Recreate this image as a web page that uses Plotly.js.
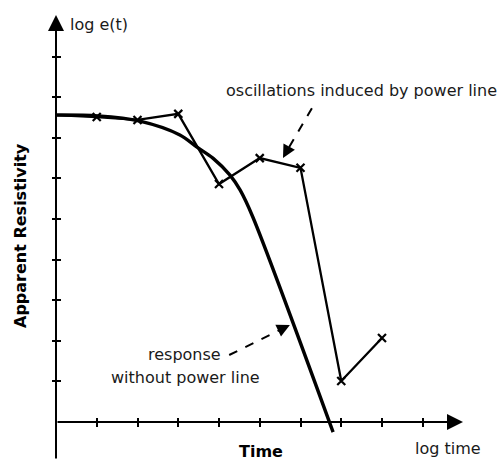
<!DOCTYPE html>
<html>
<head>
<meta charset="utf-8">
<script src="https://cdn.plot.ly/plotly-3.0.1.min.js"></script>
<style>html,body{margin:0;padding:0;background:#fff;}#chart{width:502px;height:460px;}</style>
</head>
<body>
<div id="chart"></div>
<script>
// Tick positions (log time / log e(t) units)
const xTicks = [1, 2, 3, 4, 5, 6, 7, 8, 9];
const yTicks = [1, 2, 3, 4, 5, 6, 7, 8, 9];

// Response without power line (smooth curve)
const cleanX = [0, 1.03, 2.06, 3.04, 3.46, 3.85, 4.27, 4.52, 4.83, 6.80];
const cleanY = [7.56, 7.54, 7.41, 7.07, 6.77, 6.50, 6.08, 5.71, 5.05, -0.25];

// Measured response with power-line oscillations
const noisyLineX = [0, 1, 2, 3, 4, 5, 6, 7, 8];
const noisyLineY = [7.56, 7.51, 7.44, 7.59, 5.86, 6.50, 6.26, 1.01, 2.07];
const markX = [1, 2, 3, 4, 5, 6, 7, 8];
const markY = [7.51, 7.44, 7.59, 5.86, 6.50, 6.26, 1.01, 2.07];

const W = 502, H = 460;
const X0 = 56, Y0 = 422, SX = 40.75, SY = 40.6;
const xRange = [(0 - X0) / SX, (W - X0) / SX];
const yRange = [(Y0 - H) / SY, (Y0 - 0) / SY];
const px = p => p / W;
const py = p => 1 - p / H;

const font = {family: 'DejaVu Sans, Verdana, sans-serif', size: 16, color: '#1a1a1a'};
const bold = {family: 'DejaVu Sans, Verdana, sans-serif', size: 16, color: '#000', weight: 'bold'};

const traces = [
  {x: cleanX, y: cleanY, mode: 'lines', line: {color: '#000', width: 3.4, shape: 'spline', smoothing: 0.9}, hoverinfo: 'skip'},
  {x: noisyLineX, y: noisyLineY, mode: 'lines', line: {color: '#000', width: 2.3}, hoverinfo: 'skip'},
  {x: markX, y: markY, mode: 'markers', marker: {symbol: 'x-thin-open', size: 8, color: '#000', line: {color: '#000', width: 2.2}}, hoverinfo: 'skip'},
  {x: [], y: [], xaxis: 'x2', yaxis: 'y2', mode: 'markers', hoverinfo: 'skip'}
];

const axBase = {showgrid: false, zeroline: false, showline: false, showticklabels: false,
  tickmode: 'array', ticklen: 4, tickwidth: 2, tickcolor: '#000', fixedrange: true};

const layout = {
  width: W, height: H,
  margin: {l: 0, r: 0, t: 0, b: 0, pad: 0},
  paper_bgcolor: '#fff', plot_bgcolor: 'rgba(0,0,0,0)',
  showlegend: false,
  xaxis: Object.assign({}, axBase, {range: xRange, tickvals: xTicks, ticks: 'outside', anchor: 'free', position: 1 - Y0 / H}),
  yaxis: Object.assign({}, axBase, {range: yRange, tickvals: yTicks, ticks: 'outside', anchor: 'free', position: X0 / W}),
  xaxis2: Object.assign({}, axBase, {range: xRange, tickvals: xTicks, ticks: 'inside', overlaying: 'x', anchor: 'free', position: 1 - Y0 / H}),
  yaxis2: Object.assign({}, axBase, {range: yRange, tickvals: yTicks, ticks: 'inside', overlaying: 'y', anchor: 'free', position: X0 / W}),
  shapes: [
    {type: 'line', xref: 'x', yref: 'y', x0: 6.28, y0: 7.73, x1: 5.68, y1: 6.70, line: {color: '#000', width: 2, dash: 'dash'}},
    {type: 'line', xref: 'x', yref: 'y', x0: 4.25, y0: 1.65, x1: 5.50, y1: 2.27, line: {color: '#000', width: 2, dash: 'dash'}}
  ],
  annotations: [
    // axis arrows
    {xref: 'x', yref: 'y', axref: 'x', ayref: 'y', x: 0, y: (Y0 - 15) / SY, ax: 0, ay: yRange[0], showarrow: true, arrowhead: 2, arrowwidth: 2, arrowsize: 1.6, arrowcolor: '#000', standoff: 0, text: ''},
    {xref: 'x', yref: 'y', axref: 'x', ayref: 'y', x: (463 - X0) / SX, y: 0, ax: 0, ay: 0, showarrow: true, arrowhead: 2, arrowwidth: 2, arrowsize: 1.6, arrowcolor: '#000', standoff: 0, text: ''},
    // dashed arrow heads
    {xref: 'x', yref: 'y', axref: 'x', ayref: 'y', x: 5.57, y: 6.50, ax: 5.70, ay: 6.74, showarrow: true, arrowhead: 2, arrowwidth: 2, arrowsize: 1.3, arrowcolor: '#000', standoff: 0, text: ''},
    {xref: 'x', yref: 'y', axref: 'x', ayref: 'y', x: 5.74, y: 2.39, ax: 5.47, ay: 2.26, showarrow: true, arrowhead: 2, arrowwidth: 2, arrowsize: 1.3, arrowcolor: '#000', standoff: 0, text: ''},
    // texts
    {xref: 'paper', yref: 'paper', x: px(68), y: py(24), xanchor: 'left', yanchor: 'middle', text: 'log e(t)', showarrow: false, font: font},
    {xref: 'paper', yref: 'paper', x: px(361), y: py(91), xanchor: 'center', yanchor: 'middle', text: 'oscillations induced by power line', showarrow: false, font: font},
    {xref: 'paper', yref: 'paper', x: px(184), y: py(354), xanchor: 'center', yanchor: 'middle', text: 'response', showarrow: false, font: font},
    {xref: 'paper', yref: 'paper', x: px(185.5), y: py(377), xanchor: 'center', yanchor: 'middle', text: 'without power line', showarrow: false, font: font},
    {xref: 'paper', yref: 'paper', x: px(261), y: py(451), xanchor: 'center', yanchor: 'middle', text: 'Time', showarrow: false, font: bold},
    {xref: 'paper', yref: 'paper', x: px(447.5), y: py(448), xanchor: 'center', yanchor: 'middle', text: 'log time', showarrow: false, font: font},
    {xref: 'paper', yref: 'paper', x: px(20), y: py(236), xanchor: 'center', yanchor: 'middle', textangle: -90, text: 'Apparent Resistivity', showarrow: false, font: bold}
  ]
};

Plotly.newPlot('chart', traces, layout, {staticPlot: true, displayModeBar: false});
</script>
</body>
</html>
